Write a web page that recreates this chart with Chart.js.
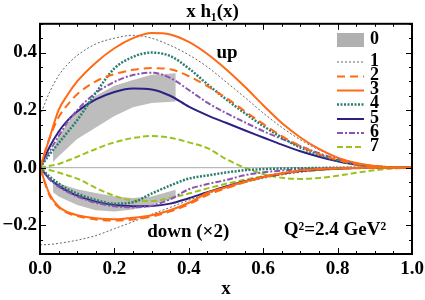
<!DOCTYPE html>
<html>
<head>
<meta charset="utf-8">
<script src="https://cdn.jsdelivr.net/npm/chart.js@4.4.1/dist/chart.umd.min.js"></script>
<style>
  body { margin: 0; background: #fff; }
</style>
</head>
<body>
<canvas id="myChart" width="425" height="300"></canvas>
<script>
// x grid shared by all curves
let xs = [0, 0.025, 0.05, 0.075, 0.1, 0.15, 0.2, 0.25, 0.3, 0.35, 0.4, 0.45, 0.5, 0.55, 0.6, 0.65, 0.7, 0.75, 0.8, 0.85, 0.9, 0.95, 1];

let up1 = [0.18, 0.26, 0.32, 0.36, 0.39, 0.43, 0.45, 0.46, 0.45, 0.425, 0.392, 0.35, 0.298, 0.245, 0.19, 0.14, 0.097, 0.062, 0.035, 0.017, 0.006, 0.001, 0];
let down1 = [-0.268, -0.267, -0.263, -0.258, -0.252, -0.236, -0.212, -0.188, -0.162, -0.138, -0.113, -0.09, -0.07, -0.052, -0.037, -0.025, -0.016, -0.009, -0.005, -0.002, -0.001, 0, 0];

let up2 = [0, 0.1, 0.175, 0.22, 0.255, 0.3, 0.325, 0.34, 0.346, 0.342, 0.318, 0.283, 0.243, 0.197, 0.152, 0.11, 0.075, 0.047, 0.027, 0.012, 0.004, 0.001, 0];
let down2 = [0, -0.095, -0.138, -0.158, -0.168, -0.18, -0.184, -0.18, -0.17, -0.152, -0.127, -0.095, -0.072, -0.051, -0.034, -0.021, -0.011, -0.006, -0.003, -0.001, 0, 0, 0];

let up3 = [0, 0.1, 0.2, 0.255, 0.3, 0.365, 0.415, 0.45, 0.468, 0.463, 0.437, 0.395, 0.342, 0.282, 0.217, 0.155, 0.105, 0.065, 0.035, 0.016, 0.006, 0.001, 0];
let down3 = [0, -0.09, -0.135, -0.155, -0.165, -0.176, -0.179, -0.174, -0.165, -0.148, -0.122, -0.088, -0.068, -0.048, -0.032, -0.019, -0.01, -0.005, -0.002, -0.001, 0, 0, 0];

let up4 = [0, 0.045, 0.085, 0.125, 0.165, 0.26, 0.345, 0.385, 0.4, 0.388, 0.345, 0.29, 0.238, 0.19, 0.145, 0.105, 0.07, 0.045, 0.025, 0.012, 0.004, 0.001, 0];
let down4 = [0, -0.03, -0.055, -0.075, -0.09, -0.112, -0.125, -0.12, -0.09, -0.062, -0.038, -0.027, -0.017, -0.009, -0.005, -0.003, -0.002, -0.001, 0, 0, 0, 0, 0];

let up5 = [0, 0.07, 0.125, 0.165, 0.195, 0.237, 0.263, 0.275, 0.272, 0.25, 0.212, 0.182, 0.156, 0.13, 0.105, 0.08, 0.057, 0.038, 0.022, 0.01, 0.004, 0.001, 0];
let down5 = [0, -0.038, -0.063, -0.082, -0.097, -0.118, -0.13, -0.134, -0.133, -0.125, -0.106, -0.085, -0.065, -0.047, -0.032, -0.021, -0.012, -0.007, -0.003, -0.001, 0, 0, 0];

let up6 = [0, 0.055, 0.11, 0.16, 0.2, 0.26, 0.298, 0.322, 0.33, 0.312, 0.27, 0.226, 0.19, 0.158, 0.127, 0.1, 0.075, 0.05, 0.03, 0.014, 0.005, 0.001, 0];
let down6 = [0, -0.04, -0.066, -0.085, -0.1, -0.122, -0.134, -0.138, -0.132, -0.11, -0.075, -0.057, -0.043, -0.026, -0.016, -0.01, -0.006, -0.003, -0.001, 0, 0, 0, 0];

let up7 = [0, 0.006, 0.013, 0.025, 0.038, 0.065, 0.088, 0.103, 0.11, 0.104, 0.088, 0.068, 0.03, 0, -0.022, -0.035, -0.039, -0.036, -0.028, -0.018, -0.009, -0.003, 0];
let down7 = [0, -0.008, -0.017, -0.027, -0.038, -0.07, -0.098, -0.114, -0.116, -0.105, -0.09, -0.072, -0.056, -0.042, -0.03, -0.02, -0.013, -0.008, -0.004, -0.002, -0.001, 0, 0];

// gray band (model 0)
let bandXs = [0.035, 0.05, 0.1, 0.15, 0.2, 0.25, 0.3, 0.365];
let bandUpLo = [0.02, 0.04, 0.1, 0.14, 0.18, 0.21, 0.225, 0.23];
let bandUpHi = [0.06, 0.11, 0.2, 0.25, 0.285, 0.305, 0.323, 0.328];
let bandDownHi = [-0.045, -0.055, -0.075, -0.088, -0.1, -0.105, -0.1, -0.077];
let bandDownLo = [-0.085, -0.1, -0.13, -0.148, -0.152, -0.145, -0.128, -0.106];

let xTicks = [0, 0.2, 0.4, 0.6, 0.8, 1.0];
let yTicks = [-0.2, 0, 0.2, 0.4];

let labels = ['0', '1', '2', '3', '4', '5', '6', '7'];

let serif = "'Liberation Serif', 'DejaVu Serif', serif";

function pts(xv, yv) {
    return xv.map((x, i) => ({x: x, y: yv[i]}));
}

let styles = {
    1: {color: '#555555', width: 0.9, dash: [2, 2]},
    2: {color: '#ff6a14', width: 2, dash: [8, 5]},
    3: {color: '#ff6a14', width: 2, dash: []},
    4: {color: '#2a7d6f', width: 2.5, dash: [2, 1.5]},
    5: {color: '#2b2185', width: 2, dash: []},
    6: {color: '#8a55b0', width: 2, dash: [6, 2, 2, 2]},
    7: {color: '#9ac21d', width: 2, dash: [6, 3]},
};
let bandColor = '#bdbdbd';

let curves = {
    1: [up1, down1], 2: [up2, down2], 3: [up3, down3], 4: [up4, down4],
    5: [up5, down5], 6: [up6, down6], 7: [up7, down7],
};

let datasets = [];
// index 0 is drawn last (on top)
[3, 2, 1, 4, 6, 5, 7].forEach(k => {
    curves[k].forEach(yv => {
        datasets.push({
            label: String(k),
            data: pts(xs, yv),
            borderColor: styles[k].color,
            borderWidth: styles[k].width,
            borderDash: styles[k].dash,
            fill: false,
            pointRadius: 0,
            cubicInterpolationMode: 'monotone',
        });
    });
});
// band
[[bandUpLo, bandUpHi], [bandDownLo, bandDownHi]].forEach(pair => {
    datasets.push({label: '0', data: pts(bandXs, pair[0]), borderWidth: 0, pointRadius: 0, fill: false, tension: 0});
    datasets.push({label: '0', data: pts(bandXs, pair[1]), borderWidth: 0, pointRadius: 0, fill: '-1', backgroundColor: bandColor, tension: 0});
});

let frame = {
    id: 'frame',
    beforeDatasetsDraw(chart) {
        let c = chart.ctx, a = chart.chartArea, y0 = chart.scales.y.getPixelForValue(0);
        c.save();
        c.strokeStyle = '#aaaaaa';
        c.lineWidth = 1;
        c.beginPath();
        c.moveTo(a.left, y0);
        c.lineTo(a.right, y0);
        c.stroke();
        c.restore();
    },
    afterDatasetsDraw(chart) {
        let c = chart.ctx, a = chart.chartArea, sx = chart.scales.x, sy = chart.scales.y;
        c.save();
        c.strokeStyle = '#000';
        c.lineWidth = 1;
        c.beginPath();
        for (let i = 0; i <= 20; i++) {
            let v = i * 0.05, p = Math.round(sx.getPixelForValue(v)) + 0.5;
            let len = (i % 4 === 0) ? 6 : 3;
            c.moveTo(p, a.bottom); c.lineTo(p, a.bottom - len);
            c.moveTo(p, a.top); c.lineTo(p, a.top + len);
        }
        for (let i = -6; i <= 10; i++) {
            let v = i * 0.05, p = Math.round(sy.getPixelForValue(v)) + 0.5;
            let len = (i % 4 === 0) ? 6 : 3;
            c.moveTo(a.left, p); c.lineTo(a.left + len, p);
            c.moveTo(a.right, p); c.lineTo(a.right - len, p);
        }
        c.stroke();
        c.lineWidth = 2;
        c.strokeRect(a.left, a.top, a.right - a.left, a.bottom - a.top);

        // legend
        let lx0 = a.right - 75, lx1 = a.right - 48, tx = a.right - 42;
        let rows = [40, 62, 76.5, 90.5, 104.5, 119, 133, 147];
        c.font = 'bold 18px ' + serif;
        c.fillStyle = '#000';
        c.textBaseline = 'middle';
        c.textAlign = 'left';
        labels.forEach((lab, i) => {
            let ry = rows[i];
            if (lab === '0') {
                c.fillStyle = '#b0b0b0';
                c.fillRect(lx0, ry - 7, lx1 - lx0, 14);
            } else {
                let s = styles[lab];
                c.strokeStyle = s.color;
                c.lineWidth = s.width;
                c.setLineDash(s.dash);
                c.beginPath();
                c.moveTo(lx0, ry);
                c.lineTo(lx1, ry);
                c.stroke();
                c.setLineDash([]);
            }
            c.fillStyle = '#000';
            c.fillText(lab, tx, ry - 1);
        });

        // annotations
        c.font = 'bold 19px ' + serif;
        c.textAlign = 'center';
        c.fillText('up', sx.getPixelForValue(0.503), sy.getPixelForValue(0.397));
        c.textAlign = 'left';
        c.fillText('down (×2)', sx.getPixelForValue(0.288), sy.getPixelForValue(-0.225));
        c.fillText('Q²=2.4 GeV²', sx.getPixelForValue(0.655), sy.getPixelForValue(-0.218));
        c.restore();
    }
};

let ctx = document.getElementById('myChart').getContext('2d');
let chart = new Chart(ctx, {
    type: 'line',
    data: {datasets: datasets},
    options: {
        responsive: false,
        animation: false,
        devicePixelRatio: 1,
        layout: {padding: {left: 0, right: 0, top: 0, bottom: 0}},
        plugins: {
            legend: {display: false},
            tooltip: {enabled: false},
            filler: {drawTime: 'beforeDatasetsDraw'},
            title: {
                display: true,
                text: 'x h₁(x)',
                color: '#000',
                font: {family: serif, size: 19, weight: 'bold'},
                padding: {top: 1, bottom: 0},
            },
        },
        scales: {
            x: {
                type: 'linear',
                min: 0,
                max: 1,
                afterBuildTicks: s => { s.ticks = xTicks.map(v => ({value: v})); },
                afterFit: s => { s.height = 46; s.paddingRight = 13; },
                grid: {display: false, drawTicks: false},
                border: {display: false},
                ticks: {
                    color: '#000',
                    padding: 4,
                    maxRotation: 0,
                    font: {family: serif, size: 19, weight: 'bold'},
                    callback: v => v.toFixed(1),
                },
                title: {
                    display: true,
                    text: 'x',
                    color: '#000',
                    padding: 0,
                    font: {family: serif, size: 19, weight: 'bold'},
                },
            },
            y: {
                type: 'linear',
                min: -0.3,
                max: 0.5,
                afterBuildTicks: s => { s.ticks = yTicks.map(v => ({value: v})); },
                afterFit: s => { s.width = 40; },
                grid: {display: false, drawTicks: false},
                border: {display: false},
                ticks: {
                    color: '#000',
                    padding: 3,
                    font: {family: serif, size: 19, weight: 'bold'},
                    callback: v => v.toFixed(1).replace('-', '\u2212'),
                },
            },
        },
    },
    plugins: [frame],
});
</script>
</body>
</html>
